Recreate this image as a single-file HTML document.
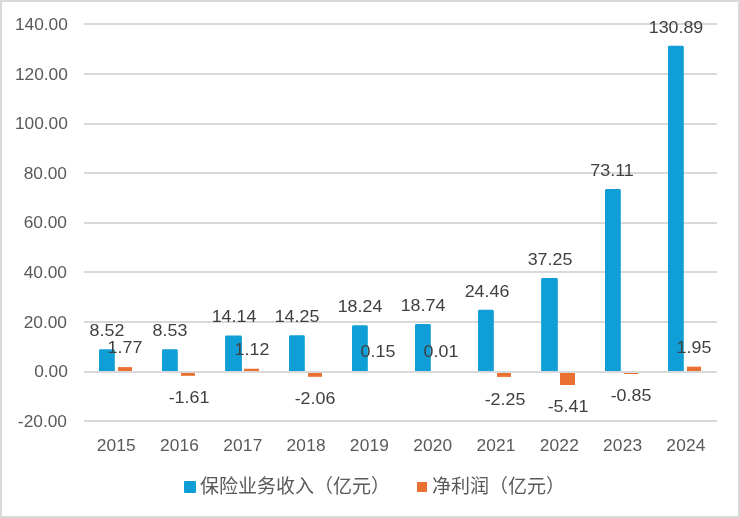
<!DOCTYPE html>
<html><head><meta charset="utf-8"><title>chart</title>
<style>
html,body{margin:0;padding:0;background:#fff;}
#c{position:relative;width:740px;height:518px;overflow:hidden;background:#fff;font-family:"Liberation Sans",sans-serif;font-size:17.33px;line-height:20px;}
#c div{position:absolute;white-space:nowrap;}
.bd{left:0;top:0;width:736px;height:514px;border:2px solid #d9d9d9;}
.g{left:84.0px;width:633.0px;height:2px;background:#d9d9d9;}
.y{left:0;width:67.9px;text-align:right;color:#595959;}
.x{width:80px;text-align:center;color:#595959;letter-spacing:0.15px;}
.l{width:80px;text-align:center;color:#404040;font-size:17.33px;transform:scaleX(1.03);}
.b{background:#0f9ed5;border-radius:1px;}
.o{background:#e97132;}
svg{position:absolute;left:0;top:0;}
#t{left:0;top:0;width:740px;height:518px;will-change:transform;}
</style></head><body>
<div id="c">
<div class="bd"></div>
<div class="g" style="top:23px"></div>
<div class="g" style="top:73px"></div>
<div class="g" style="top:123px"></div>
<div class="g" style="top:172px"></div>
<div class="g" style="top:222px"></div>
<div class="g" style="top:271px"></div>
<div class="g" style="top:321px"></div>
<div class="g" style="top:420px"></div>
<svg width="740" height="518" viewBox="0 0 740 518">
<rect x="99" y="349.36" width="15.8" height="23.64" rx="1.4" fill="#0f9ed5"/>
<rect x="118" y="367.11" width="14" height="4.39" fill="#e97132"/>
<rect x="162" y="349.33" width="15.8" height="23.67" rx="1.4" fill="#0f9ed5"/>
<rect x="181" y="371.50" width="14" height="4.30" fill="#e97132"/>
<rect x="225.1" y="335.42" width="16.8" height="37.58" rx="1.4" fill="#0f9ed5"/>
<rect x="244" y="368.72" width="15" height="2.78" fill="#e97132"/>
<rect x="289" y="335.14" width="15.8" height="37.86" rx="1.4" fill="#0f9ed5"/>
<rect x="308" y="371.50" width="14" height="5.30" fill="#e97132"/>
<rect x="352" y="325.24" width="15.8" height="47.76" rx="1.4" fill="#0f9ed5"/>
<rect x="371" y="371.13" width="14" height="0.37" fill="#e97132"/>
<rect x="415" y="324.00" width="15.8" height="49.00" rx="1.4" fill="#0f9ed5"/>
<rect x="434" y="371.48" width="14" height="0.02" fill="#e97132"/>
<rect x="478" y="309.81" width="15.8" height="63.19" rx="1.4" fill="#0f9ed5"/>
<rect x="497" y="371.50" width="14" height="5.40" fill="#e97132"/>
<rect x="541.1" y="278.07" width="16.7" height="94.93" rx="1.4" fill="#0f9ed5"/>
<rect x="560" y="371.50" width="15" height="13.50" fill="#e97132"/>
<rect x="605" y="189.10" width="15.8" height="183.90" rx="1.4" fill="#0f9ed5"/>
<rect x="624" y="371.50" width="14" height="2.50" fill="#e97132"/>
<rect x="668" y="45.73" width="15.8" height="327.27" rx="1.4" fill="#0f9ed5"/>
<rect x="687" y="366.66" width="14" height="4.84" fill="#e97132"/>
</svg>
<div class="g" style="top:371px"></div>
<div id="t">
<div class="y" style="top:14px;width:67.9px">140.00</div>
<div class="y" style="top:64px;width:67.9px">120.00</div>
<div class="y" style="top:113px;width:67.9px">100.00</div>
<div class="y" style="top:163px;width:67.0px">80.00</div>
<div class="y" style="top:212px;width:67.0px">60.00</div>
<div class="y" style="top:262px;width:67.0px">40.00</div>
<div class="y" style="top:312px;width:67.0px">20.00</div>
<div class="y" style="top:361px;width:67.9px">0.00</div>
<div class="y" style="top:411px;width:67.0px">-20.00</div>
<div class="x" style="left:76.25px;top:434.5px">2015</div>
<div class="x" style="left:139.55px;top:434.5px">2016</div>
<div class="x" style="left:202.85px;top:434.5px">2017</div>
<div class="x" style="left:266.15px;top:434.5px">2018</div>
<div class="x" style="left:329.45px;top:434.5px">2019</div>
<div class="x" style="left:392.75px;top:434.5px">2020</div>
<div class="x" style="left:456.05px;top:434.5px">2021</div>
<div class="x" style="left:519.35px;top:434.5px">2022</div>
<div class="x" style="left:582.65px;top:434.5px">2023</div>
<div class="x" style="left:645.95px;top:434.5px">2024</div>
<div class="l" style="left:66.90px;top:320.10px">8.52</div>
<div class="l" style="left:85.00px;top:337.10px">1.77</div>
<div class="l" style="left:130.40px;top:320.10px">8.53</div>
<div class="l" style="left:148.70px;top:387.10px">-1.61</div>
<div class="l" style="left:193.50px;top:306.10px">14.14</div>
<div class="l" style="left:211.50px;top:339.10px">1.12</div>
<div class="l" style="left:256.90px;top:306.10px">14.25</div>
<div class="l" style="left:275.00px;top:388.10px">-2.06</div>
<div class="l" style="left:319.90px;top:296.10px">18.24</div>
<div class="l" style="left:338.00px;top:341.10px">0.15</div>
<div class="l" style="left:382.90px;top:295.10px">18.74</div>
<div class="l" style="left:401.00px;top:341.10px">0.01</div>
<div class="l" style="left:446.50px;top:281.10px">24.46</div>
<div class="l" style="left:464.50px;top:389.10px">-2.25</div>
<div class="l" style="left:510.05px;top:249.10px">37.25</div>
<div class="l" style="left:527.50px;top:396.10px">-5.41</div>
<div class="l" style="left:572.40px;top:160.10px">73.11</div>
<div class="l" style="left:590.60px;top:385.10px">-0.85</div>
<div class="l" style="left:635.90px;top:17.10px">130.89</div>
<div class="l" style="left:654.00px;top:337.10px">1.95</div>
</div>
<div class="b" style="left:184px;top:481px;width:12px;height:12px"></div>
<div class="o" style="left:417px;top:482px;width:10px;height:10px"></div>
<svg width="740" height="518" viewBox="0 0 740 518" fill="#595959">
<text x="200" y="492.6" font-size="19" fill="#595959" textLength="190" lengthAdjust="spacing" style="font-family:'Liberation Sans','Noto Sans CJK SC',sans-serif;">保险业务收入（亿元）</text>
<text x="432" y="492.6" font-size="19" fill="#595959" textLength="133" lengthAdjust="spacing" style="font-family:'Liberation Sans','Noto Sans CJK SC',sans-serif;">净利润（亿元）</text>
</svg>
</div>
</body></html>
